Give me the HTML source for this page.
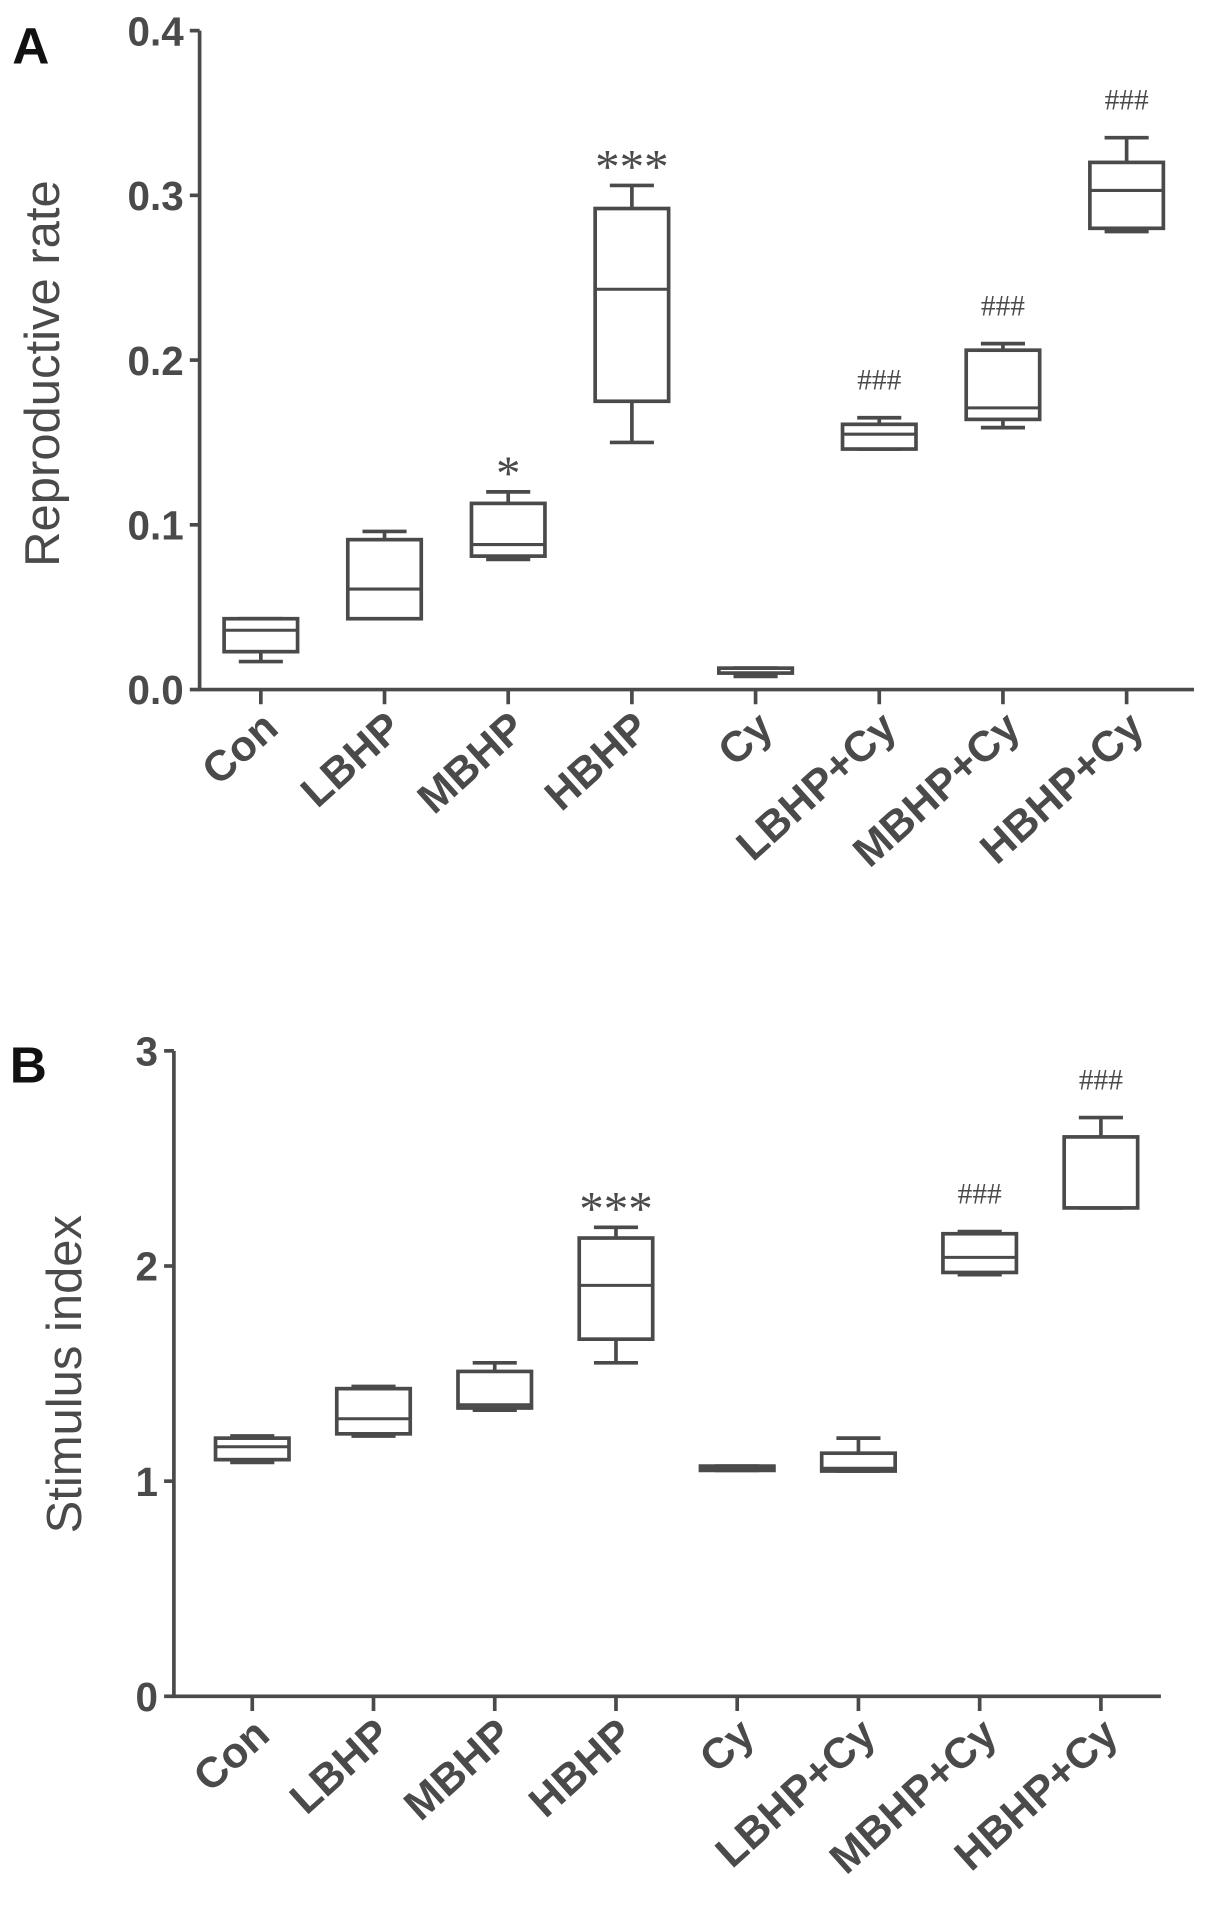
<!DOCTYPE html>
<html><head><meta charset="utf-8"><style>
html,body{margin:0;padding:0;background:#fff;}
svg{display:block;}
text{font-family:"Liberation Sans",Arial,sans-serif;font-weight:bold;fill:#4a4a4a;}
</style></head><body>
<svg id="chart" width="1205" height="1918" viewBox="0 0 984 1566" preserveAspectRatio="none">
<text x="10" y="52" font-size="42" style="fill:#111">A</text>
<text x="8" y="884" font-size="42" style="fill:#111">B</text>
<g id="gA"></g>
<g id="gB"></g>
</svg>
<script>
const categories = ["Con","LBHP","MBHP","HBHP","Cy","LBHP+Cy","MBHP+Cy","HBHP+Cy"];
// panel A: [min, q1, median, q3, max]
const rateMin = [0.017,0.043,0.079,0.150,0.008,0.146,0.159,0.278];
const rateQ1  = [0.023,0.043,0.081,0.175,0.010,0.146,0.164,0.280];
const rateMed = [0.036,0.061,0.088,0.243,0.010,0.155,0.171,0.303];
const rateQ3  = [0.043,0.091,0.113,0.292,0.013,0.161,0.206,0.320];
const rateMax = [0.043,0.096,0.120,0.306,0.013,0.165,0.210,0.335];
const rateTicks = ["0.0","0.1","0.2","0.3","0.4"];
const rateMarks = ["","","*","***","","###","###","###"];
// panel B
const siMin = [1.087,1.21,1.33,1.55,1.05,1.047,1.96,2.27];
const siQ1  = [1.10,1.22,1.34,1.66,1.05,1.047,1.97,2.27];
const siMed = [1.16,1.29,1.355,1.91,1.06,1.06,2.04,2.27];
const siQ3  = [1.20,1.43,1.51,2.13,1.07,1.13,2.15,2.60];
const siMax = [1.21,1.44,1.55,2.18,1.07,1.20,2.16,2.69];
const siTicks = ["0","1","2","3"];
const siMarks = ["","","","***","","","###","###"];

const NS="http://www.w3.org/2000/svg";
function mk(parent,tag,attrs){const e=document.createElementNS(NS,tag);for(const k in attrs)e.setAttribute(k,attrs[k]);parent.appendChild(e);return e;}
const C="#4a4a4a";

function panel(g,cfg){
  const y=v=>cfg.y0-(v-cfg.vmin)/(cfg.vmax-cfg.vmin)*(cfg.y0-cfg.y1);
  const x=i=>cfg.xStart+i*cfg.xStep;
  let ax=mk(g,'line',{x1:cfg.ax,y1:cfg.y1,x2:cfg.ax,y2:cfg.y0,stroke:C,'stroke-width':3});
  
  
  let bx=mk(g,'line',{x1:cfg.ax-1,y1:cfg.y0,x2:cfg.xEnd,y2:cfg.y0,stroke:C,'stroke-width':3});
  
  
  cfg.ticks.forEach((t,i)=>{
    const v=cfg.vmin+i*(cfg.vmax-cfg.vmin)/(cfg.ticks.length-1);
    const tk=mk(g,'line',{x1:cfg.ax-8,y1:y(v),x2:cfg.ax,y2:y(v),stroke:C,'stroke-width':3});
    
    
    const tl=mk(g,'text',{x:cfg.ax-13,y:y(v)+12,'font-size':33,'text-anchor':'end'});
    tl.textContent=t;
    
    
  });
  const tt=mk(g,'text',{x:0,y:0,'font-size':40,'text-anchor':'middle',transform:`translate(${cfg.titleX},${cfg.titleY}) rotate(-90)`,style:'font-weight:normal'});
  tt.textContent=cfg.title;
  
  
  categories.forEach((c,i)=>{
    const cx=x(i);
    const tk=mk(g,'line',{x1:cx,y1:cfg.y0,x2:cx,y2:cfg.y0+12,stroke:C,'stroke-width':3});
    
    
    const lab=mk(g,'text',{x:0,y:0,'font-size':35,'text-anchor':'end',transform:`translate(${cx+16},${cfg.y0+34}) rotate(-42)`});
    lab.textContent=c;
    
    
    const bg=mk(g,'g',{});
    
    
    const w=cfg.bw, cap=cfg.cap;
    const mn=y(cfg.min[i]),q1=y(cfg.q1[i]),md=y(cfg.med[i]),q3=y(cfg.q3[i]),mx=y(cfg.max[i]);
    mk(bg,'line',{x1:cx,y1:q3,x2:cx,y2:mx,stroke:C,'stroke-width':3});
    mk(bg,'line',{x1:cx,y1:q1,x2:cx,y2:mn,stroke:C,'stroke-width':3});
    mk(bg,'line',{x1:cx-cap,y1:mx,x2:cx+cap,y2:mx,stroke:C,'stroke-width':3});
    mk(bg,'line',{x1:cx-cap,y1:mn,x2:cx+cap,y2:mn,stroke:C,'stroke-width':3});
    mk(bg,'rect',{x:cx-w/2,y:q3,width:w,height:Math.max(q1-q3,1),fill:'#fff',stroke:C,'stroke-width':3});
    mk(bg,'line',{x1:cx-w/2,y1:md,x2:cx+w/2,y2:md,stroke:C,'stroke-width':2.5});
    if(cfg.marks[i]){
      const star=cfg.marks[i].startsWith('*');
      const m=mk(g,'text',{x:cx,y:mx-(star?2:23),'font-size':star?40:24,'text-anchor':'middle',style:'font-weight:normal;font-family:"Liberation Serif",serif'});
      m.textContent=cfg.marks[i];
      
      
    }
  });
}
panel(document.getElementById('gA'),{ax:163,y0:563,y1:25,vmin:0,vmax:0.4,xStart:213,xStep:101,xEnd:975,bw:60,cap:18,
  ticks:rateTicks,title:"Reproductive rate",titleX:48,titleY:305,min:rateMin,q1:rateQ1,med:rateMed,q3:rateQ3,max:rateMax,marks:rateMarks});
panel(document.getElementById('gB'),{ax:142,y0:1385,y1:858,vmin:0,vmax:3,xStart:206,xStep:99,xEnd:948,bw:60,cap:18,
  ticks:siTicks,title:"Stimulus index",titleX:66,titleY:1122,min:siMin,q1:siQ1,med:siMed,q3:siQ3,max:siMax,marks:siMarks});
</script>
</body></html>
